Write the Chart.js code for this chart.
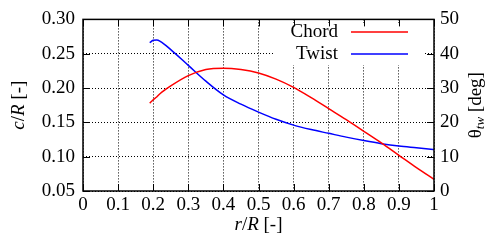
<!DOCTYPE html>
<html>
<head>
<meta charset="utf-8">
<script src="https://cdn.jsdelivr.net/npm/chart.js@4"></script>
<style>
  body { margin: 0; background: #fff; }
  #wrap { width: 486px; height: 240px; }
</style>
</head>
<body>
<div id="wrap"><canvas id="bladeChart"></canvas></div>
<script>
// r/R stations
var radius = [0.19, 0.2, 0.21, 0.22, 0.25, 0.3, 0.35, 0.4, 0.45, 0.5, 0.55, 0.6, 0.65, 0.7, 0.75, 0.8, 0.85, 0.9, 0.95, 1.0];
// c/R
var chord = [0.178, 0.183, 0.187, 0.192, 0.203, 0.218, 0.227, 0.229, 0.227, 0.222, 0.213, 0.201, 0.186, 0.170, 0.154, 0.137, 0.120, 0.102, 0.084, 0.067];
// twist angle, deg
var twist = [43.2, 43.9, 44.0, 43.6, 41.2, 36.6, 32.0, 28.0, 25.3, 23.0, 20.9, 19.2, 17.9, 16.8, 15.7, 14.7, 13.8, 13.1, 12.6, 12.1];

var legendLabels = ['Chord', 'Twist'];
var FONT = '"Liberation Serif", "Times New Roman", serif';

function pts(xs, ys) {
    return xs.map(function (x, i) { return { x: x, y: ys[i] }; });
}

// frame, inward tick marks, legend and axis titles (gnuplot look)
var gnuplotLook = {
    id: 'gnuplotLook',
    afterDatasetsDraw: function (chart) {
        var ctx = chart.ctx;
        ctx.save();
        ctx.fillStyle = '#fff';
        ctx.fillRect(273, 23, 152, 42);
        ctx.font = '19px ' + FONT;
        ctx.fillStyle = '#000';
        ctx.textAlign = 'right';
        ctx.textBaseline = 'middle';
        var ys = [32, 54];
        chart.data.datasets.forEach(function (ds, i) {
            ctx.fillText(ds.label, 338, ys[i]);
            ctx.strokeStyle = ds.borderColor;
            ctx.lineWidth = 1.5;
            ctx.beginPath();
            ctx.moveTo(351, ys[i]);
            ctx.lineTo(408, ys[i]);
            ctx.stroke();
        });
        ctx.restore();
    },
    afterDraw: function (chart) {
        var ctx = chart.ctx, a = chart.chartArea;
        var xs = chart.scales.x, yl = chart.scales.y;
        ctx.save();
        ctx.strokeStyle = '#000';
        ctx.lineWidth = 1;
        ctx.beginPath();
        xs.ticks.forEach(function (t) {
            var px = Math.round(xs.getPixelForValue(t.value)) + 0.5;
            ctx.moveTo(px, a.bottom); ctx.lineTo(px, a.bottom - 7);
            ctx.moveTo(px, a.top); ctx.lineTo(px, a.top + 7);
        });
        yl.ticks.forEach(function (t) {
            var py = Math.round(yl.getPixelForValue(t.value)) + 0.5;
            ctx.moveTo(a.left, py); ctx.lineTo(a.left + 7, py);
            ctx.moveTo(a.right, py); ctx.lineTo(a.right - 7, py);
        });
        ctx.stroke();
        ctx.lineWidth = 1.5;
        ctx.strokeRect(a.left, a.top, a.right - a.left, a.bottom - a.top);

        ctx.fillStyle = '#000';
        ctx.textBaseline = 'middle';
        var it = 'italic 19px ' + FONT, rm = '19px ' + FONT;

        // draws a run of [text, font, dy] pieces centred on (0,0)
        function runs(parts) {
            var w = 0;
            parts.forEach(function (p) { ctx.font = p[1]; w += ctx.measureText(p[0]).width; });
            var x = -w / 2;
            ctx.textAlign = 'left';
            parts.forEach(function (p) {
                ctx.font = p[1];
                ctx.fillText(p[0], x, p[2] || 0);
                x += ctx.measureText(p[0]).width;
            });
        }

        ctx.save();
        ctx.translate((a.left + a.right) / 2, 225);
        runs([['r', it], ['/', rm], ['R', it], [' [-]', rm]]);
        ctx.restore();

        ctx.save();
        ctx.translate(19, (a.top + a.bottom) / 2);
        ctx.rotate(-Math.PI / 2);
        runs([['c', it], ['/', rm], ['R', it], [' [-]', rm]]);
        ctx.restore();

        ctx.save();
        ctx.translate(476, (a.top + a.bottom) / 2);
        ctx.rotate(-Math.PI / 2);
        runs([['θ', rm], ['tw', 'italic 13px ' + FONT, 5], [' [deg]', rm]]);
        ctx.restore();
        ctx.restore();
    }
};

var tickFont = { family: FONT, size: 19 };

var ctx = document.getElementById('bladeChart').getContext('2d');
new Chart(ctx, {
    type: 'line',
    data: {
        datasets: [{
            label: legendLabels[0],
            data: pts(radius, chord),
            borderColor: '#ff0000',
            borderWidth: 1.5,
            pointRadius: 0,
            cubicInterpolationMode: 'monotone',
            yAxisID: 'y'
        },
        {
            label: legendLabels[1],
            data: pts(radius, twist),
            borderColor: '#0000ff',
            borderWidth: 1.5,
            pointRadius: 0,
            cubicInterpolationMode: 'monotone',
            yAxisID: 'y2'
        }]
    },
    options: {
        responsive: true,
        maintainAspectRatio: false,
        animation: false,
        layout: { padding: { top: 15, left: 0, right: 0, bottom: 0 } },
        plugins: {
            legend: { display: false },
            tooltip: { enabled: false }
        },
        scales: {
            x: {
                type: 'linear',
                min: 0,
                max: 1,
                afterFit: function (s) { s.height = 49; },
                ticks: {
                    stepSize: 0.1,
                    autoSkip: false,
                    maxRotation: 0,
                    padding: 3,
                    color: '#000',
                    font: tickFont,
                    callback: function (v) { return String(Number(v.toFixed(1))); }
                },
                grid: { color: '#000', lineWidth: 1, drawTicks: false },
                border: { display: false, dash: [1, 2] }
            },
            y: {
                position: 'left',
                min: 0.05,
                max: 0.3,
                afterFit: function (s) { s.width = 83; },
                ticks: {
                    stepSize: 0.05,
                    padding: 8,
                    color: '#000',
                    font: tickFont,
                    callback: function (v) { return v.toFixed(2); }
                },
                grid: { color: '#000', lineWidth: 1, drawTicks: false },
                border: { display: false, dash: [1, 2] }
            },
            y2: {
                position: 'right',
                min: 0,
                max: 50,
                afterFit: function (s) { s.width = 52; },
                ticks: {
                    stepSize: 10,
                    padding: 6,
                    color: '#000',
                    font: tickFont
                },
                grid: { display: false, drawTicks: false },
                border: { display: false }
            }
        }
    },
    plugins: [gnuplotLook]
});
</script>
</body>
</html>
